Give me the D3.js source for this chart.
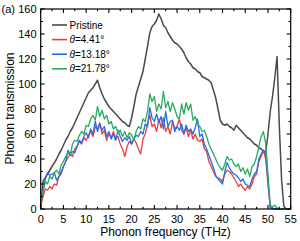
<!DOCTYPE html>
<html><head><meta charset="utf-8">
<script src="https://cdn.jsdelivr.net/npm/d3@7"></script>
<style>body{margin:0;background:#fff}svg{display:block}text{font-family:"Liberation Sans",Arial,sans-serif;fill:#000}</style>
</head><body><svg id="c" width="300" height="241"></svg>
<script>
const freq = [0,0.5,1,1.5,2,2.5,3,3.5,4,4.5,5,5.5,6,6.5,7,7.5,8,8.5,9,9.5,10,10.5,11,11.5,12,12.5,13,13.5,14,14.5,15,15.5,16,16.5,17,17.5,18,18.5,19,19.5,20,20.5,21,21.5,22,22.5,23,23.5,24,24.5,25,25.5,26,26.5,27,27.5,28,28.5,29,29.5,30,30.5,31,31.5,32,32.5,33,33.5,34,34.5,35,35.5,36,36.5,37,37.5,38,38.5,39,39.5,40,40.5,41,41.5,42,42.5,43,43.5,44,44.5,45,45.5,46,46.5,47,47.5,48,48.5,49,49.5,50,50.5,51,51.5,52,52.5,53,53.5,54,54.5,55];
const pristine = [0,22,25,28,31,34,37,40,44,47,51,55,58,62,65,69,73,77,81,85,89,93,95,97,100,103,97,92,88,85,82,80,78,76,74,72,70,69,67,66,73,82,92,98,104,110,120,130,141,146,148,151,156,152,147,145,141,138,135,133,132,130,128,125,121,118,116,113,112,110,109,106,105,104,103,101,95,89,80,71,68,67,68,66,65,63,67,65,63,61,59,57,56,54,52,51,49,48,46,45,60,78,90,105,122,66,23,2,0,0,0];
const theta441 = [2,10,16,15,18,16,20,19,26,30,34,38,41,44,42,48,50,54,52,57,55,59,62,58,66,64,69,60,63,55,60,57,62,56,58,52,48,42,50,54,52,56,53,48,44,56,60,68,75,66,68,62,72,65,73,62,66,60,70,64,66,72,63,60,65,58,63,56,60,55,54,56,48,46,38,34,30,26,25,24,22,28,31,30,28,25,22,18,20,17,15,18,16,20,26,28,38,42,47,40,20,1,0,0,0,0,0,0,0,0,0];
const theta1318 = [4,14,24,29,27,28,29,23,26,28,34,38,47,44,46,45,50,55,53,58,61,57,64,60,70,62,68,63,66,58,62,56,60,55,63,58,54,57,55,58,52,56,59,58,62,60,68,66,81,73,70,76,69,74,64,78,66,70,71,62,66,63,68,60,67,62,64,60,65,72,58,60,52,48,43,38,33,27,24,22,20,30,37,33,30,28,27,25,22,24,20,19,18,24,28,30,40,44,47,45,22,1,1,0,0,0,0,0,0,0,0];
const theta2178 = [3,14,22,20,26,24,29,31,28,35,38,42,45,43,52,55,54,59,62,60,67,66,72,75,71,82,74,79,72,75,68,70,64,66,61,63,58,62,57,61,59,55,62,66,64,72,70,78,92,86,90,78,84,80,94,81,86,78,85,80,74,72,84,76,85,79,84,71,74,68,66,62,63,58,52,48,44,40,36,33,31,36,42,39,40,36,34,36,30,33,28,32,26,34,36,42,50,58,62,52,28,3,2,3,1,0,0,0,0,0,0];
const seriesNames = ["Pristine","θ=4.41°","θ=13.18°","θ=21.78°"];
const seriesColors = ["#4a4a4a","#f03c3c","#1f6fe8","#2aaa5c"];
const seriesData = [pristine, theta441, theta1318, theta2178];
const xTicks = [0,5,10,15,20,25,30,35,40,45,50,55];
const yTicks = [0,20,40,60,80,100,120,140,160];

const svg = d3.select("#c");
const x = d3.scaleLinear().domain([0,55]).range([40.7,290.7]);
const y = d3.scaleLinear().domain([0,160]).range([209,9]);

const line = d3.line().x((d,i)=>x(freq[i])).y(d=>y(d));
seriesData.forEach((s,k)=>{
  svg.append("path").datum(s).attr("d",line).attr("fill","none")
    .attr("stroke",seriesColors[k]).attr("stroke-width",k===0?1.5:1.3).attr("stroke-linejoin","round");
});

// frame
svg.append("rect").attr("x",x(0)).attr("y",y(160)).attr("width",x(55)-x(0)).attr("height",y(0)-y(160))
  .attr("fill","none").attr("stroke","#000").attr("stroke-width",1.2);

// ticks inside
const xMinor = d3.range(0,55.01,2.5);
const yMinor = d3.range(0,160.01,10);
const tk = svg.append("g").attr("stroke","#000").attr("stroke-width",1.1);
xMinor.forEach(v=>{
  const L = (v%5===0)?4:2.2;
  tk.append("line").attr("x1",x(v)).attr("x2",x(v)).attr("y1",y(0)).attr("y2",y(0)-L);
  tk.append("line").attr("x1",x(v)).attr("x2",x(v)).attr("y1",y(160)).attr("y2",y(160)+L);
});
yMinor.forEach(v=>{
  const L = (v%20===0)?4:2.2;
  tk.append("line").attr("x1",x(0)).attr("x2",x(0)+L).attr("y1",y(v)).attr("y2",y(v));
  tk.append("line").attr("x1",x(55)).attr("x2",x(55)-L).attr("y1",y(v)).attr("y2",y(v));
});

// tick labels
svg.append("g").selectAll("text").data(xTicks).join("text")
  .attr("x",d=>x(d)).attr("y",222.5).attr("text-anchor","middle").attr("font-size",11).text(d=>d);
svg.append("g").selectAll("text").data(yTicks).join("text")
  .attr("x",36.5).attr("y",d=>y(d)+3.9).attr("text-anchor","end").attr("font-size",11).text(d=>d);

// axis titles
svg.append("text").attr("x",165.5).attr("y",236).attr("text-anchor","middle").attr("font-size",12).text("Phonon frequency (THz)");
svg.append("text").attr("transform","translate(14,108.5) rotate(-90)").attr("text-anchor","middle").attr("font-size",12).text("Phonon transmission");
svg.append("text").attr("x",1.5).attr("y",12.5).attr("font-size",11).text("(a)");

// legend
const lg = svg.append("g");
seriesNames.forEach((n,k)=>{
  const yy = 25 + k*14.6;
  lg.append("line").attr("x1",52).attr("x2",67).attr("y1",yy).attr("y2",yy)
    .attr("stroke",seriesColors[k]).attr("stroke-width",1.6);
  const t = lg.append("text").attr("x",69.5).attr("y",yy+3.6).attr("font-size",10);
  if (n.startsWith("θ")) {
    t.append("tspan").attr("font-style","italic").text("θ");
    t.append("tspan").text(n.slice(1));
  } else t.text(n);
});
</script></body></html>
